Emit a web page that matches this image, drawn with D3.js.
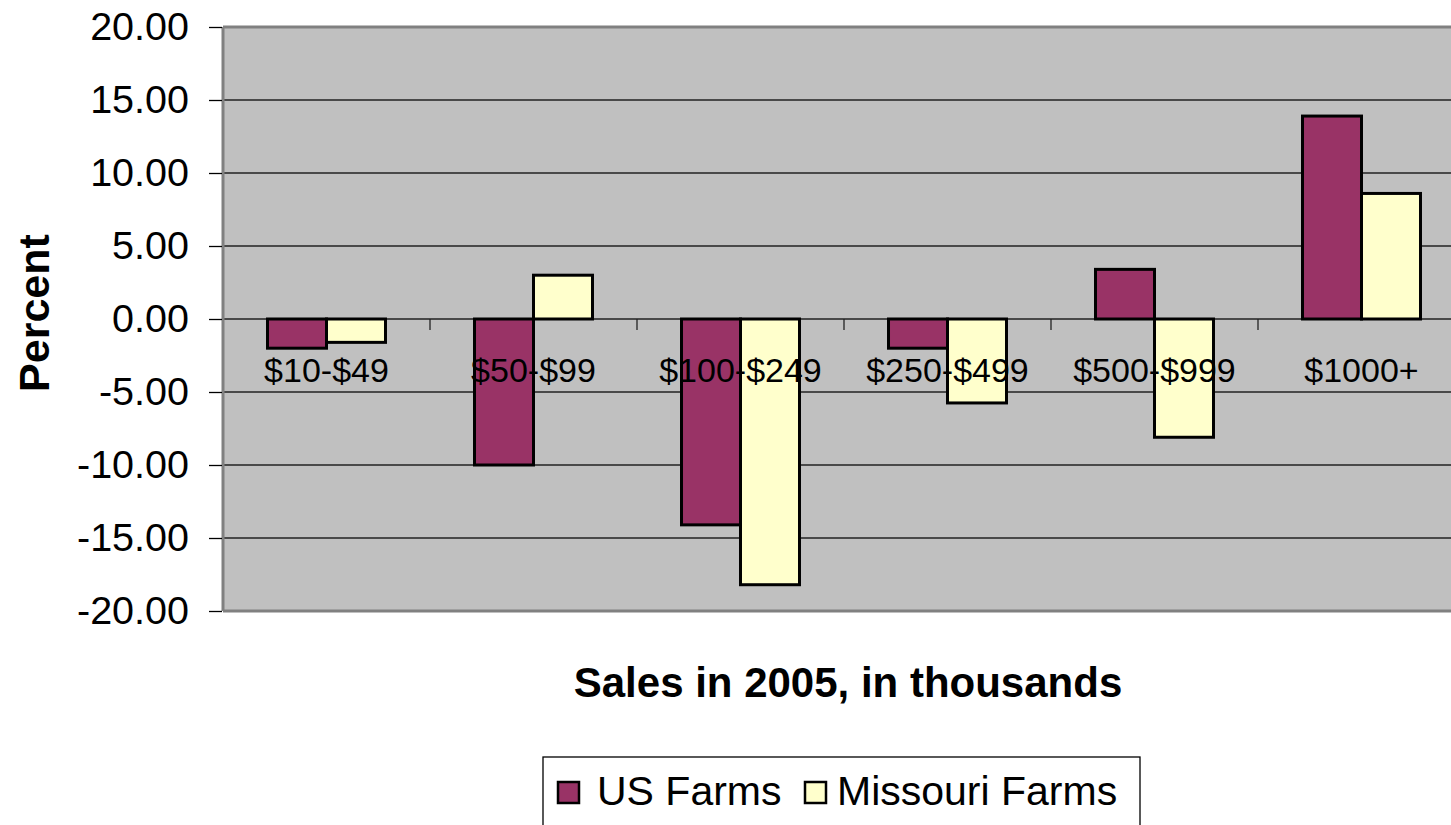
<!DOCTYPE html>
<html><head><meta charset="utf-8">
<script src="https://cdn.jsdelivr.net/npm/d3@7"></script>
<style>body{margin:0;background:#fff;}svg{display:block;font-family:"Liberation Sans",Arial,sans-serif;}</style>
</head><body>
<svg id="c" width="1451" height="825"></svg>
<script>
const categories = ["$10-$49","$50-$99","$100-$249","$250-$499","$500-$999","$1000+"];
const seriesNames = ["US Farms","Missouri Farms"];
const usFarms = [-2.0,-10.0,-14.1,-2.0,3.4,13.9];
const missouriFarms = [-1.6,3.0,-18.2,-5.75,-8.1,8.6];
const yTicks = [20,15,10,5,0,-5,-10,-15,-20];
const colors = ["#993366","#FFFFCC"];

const svg = d3.select("#c");
const L = 223, R = 1465, T = 27, B = 611;
const y = d3.scaleLinear().domain([-20,20]).range([B,T]);
const x = d3.scaleBand().domain(categories).range([L,R]).paddingInner(0.43).paddingOuter(0.215);
const xs = d3.scaleBand().domain(seriesNames).range([0,x.bandwidth()]);

// plot background
svg.append("rect").attr("x",L).attr("y",T).attr("width",R-L).attr("height",B-T).attr("fill","#C0C0C0");
// gridlines
svg.append("g").selectAll("line").data(yTicks.filter(d=>d!==-20)).join("line")
  .attr("x1",L).attr("x2",R).attr("y1",d=>y(d)).attr("y2",d=>y(d))
  .attr("stroke","#222").attr("stroke-width",1.3);
// border
svg.append("line").attr("x1",L).attr("x2",R).attr("y1",T).attr("y2",T).attr("stroke","#808080").attr("stroke-width",3);
svg.append("line").attr("x1",L).attr("x2",R).attr("y1",B).attr("y2",B).attr("stroke","#808080").attr("stroke-width",3);
svg.append("line").attr("x1",L).attr("x2",L).attr("y1",T).attr("y2",B).attr("stroke","#808080").attr("stroke-width",3);

// y axis
const fmt = d => d3.format(".2f")(d).replace("\u2212","-");
const yAxis = d3.axisLeft(y).tickValues(yTicks).tickFormat(fmt).tickSize(13).tickPadding(20);
const ga = svg.append("g").attr("transform",`translate(${L-1},0)`).call(yAxis);
ga.select(".domain").remove();
ga.selectAll(".tick line").attr("stroke","#000").attr("stroke-width",1.3);
ga.selectAll(".tick text").attr("font-size",39.5).attr("fill","#000").attr("font-family","Liberation Sans, Arial, sans-serif");

// category tick marks on zero line
svg.append("g").selectAll("line").data(categories.slice(1)).join("line")
  .attr("x1",c=>x(c)-(x.step()-x.bandwidth())/2).attr("x2",c=>x(c)-(x.step()-x.bandwidth())/2)
  .attr("y1",y(0)).attr("y2",y(0)+11).attr("stroke","#222").attr("stroke-width",1.3);

// bars
const data = [];
categories.forEach((c,i)=>{
  data.push({c, s:seriesNames[0], v:usFarms[i], col:colors[0]});
  data.push({c, s:seriesNames[1], v:missouriFarms[i], col:colors[1]});
});
svg.append("g").selectAll("rect").data(data).join("rect")
  .attr("x",d=>x(d.c)+xs(d.s))
  .attr("width",xs.bandwidth())
  .attr("y",d=>y(Math.max(0,d.v)))
  .attr("height",d=>Math.abs(y(d.v)-y(0)))
  .attr("fill",d=>d.col).attr("stroke","#000").attr("stroke-width",3);

// category labels
svg.append("g").selectAll("text").data(categories).join("text")
  .attr("x",c=>x(c)+x.bandwidth()/2).attr("y",382)
  .attr("text-anchor","middle").attr("font-size",34).attr("fill","#000").text(c=>c);

// axis titles
svg.append("text").attr("x",848).attr("y",697).attr("text-anchor","middle")
  .attr("font-size",42).attr("font-weight","bold").text("Sales in 2005, in thousands");
svg.append("text").attr("transform","translate(49,313) rotate(-90)").attr("text-anchor","middle")
  .attr("font-size",43).attr("font-weight","bold").text("Percent");

// legend
const lg = svg.append("g");
lg.append("rect").attr("x",543).attr("y",757).attr("width",597).attr("height",120)
  .attr("fill","#fff").attr("stroke","#000").attr("stroke-width",1.3);
const items = [{n:seriesNames[0],col:colors[0],mx:558,tx:597},{n:seriesNames[1],col:colors[1],mx:805,tx:837}];
items.forEach(it=>{
  lg.append("rect").attr("x",it.mx).attr("y",782).attr("width",21).attr("height",21)
    .attr("fill",it.col).attr("stroke","#000").attr("stroke-width",2.5);
  lg.append("text").attr("x",it.tx).attr("y",805).attr("font-size",41).attr("fill","#000").text(it.n);
});
</script>
</body></html>
